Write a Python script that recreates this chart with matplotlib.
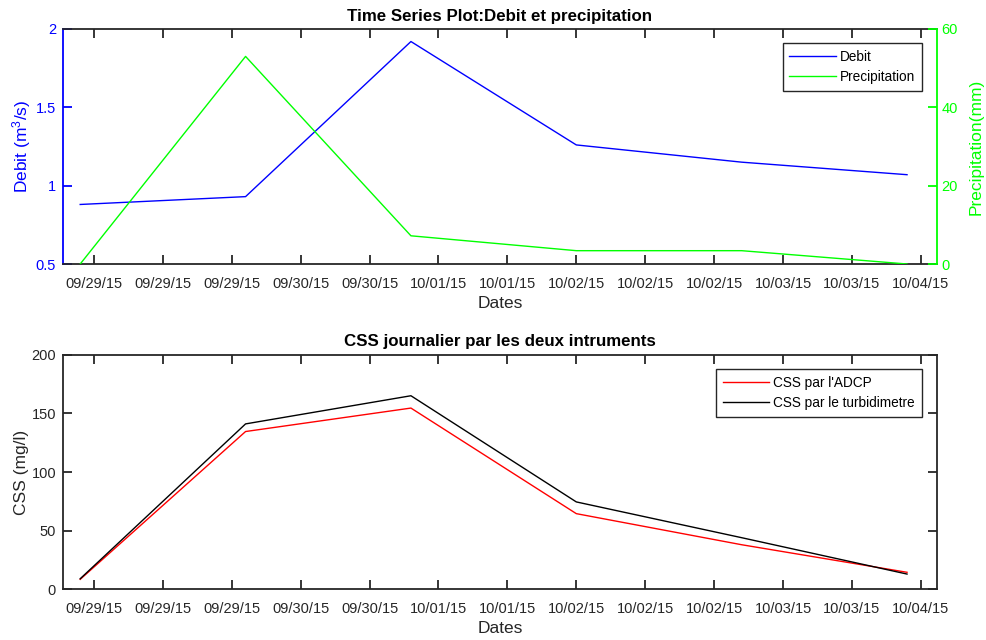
import matplotlib
matplotlib.use('Agg')
import matplotlib.pyplot as plt
import matplotlib.dates as mdates
import pandas as pd

plt.rcParams['font.family'] = ['Liberation Sans', 'DejaVu Sans']
plt.rcParams['mathtext.default'] = 'regular'

# donnees journalieres
dates = pd.to_datetime(['2015-09-29', '2015-09-30', '2015-10-01',
                        '2015-10-02', '2015-10-03', '2015-10-04'])
debit = [0.88, 0.93, 1.92, 1.26, 1.15, 1.07]
precip = [0, 53, 7.2, 3.4, 3.4, 0]
css_adcp = [8.5, 134.5, 154.5, 64.5, 38, 14.5]
css_turb = [9, 141, 165, 74.5, 44, 13]

# ticks toutes les 10 heures (comme matlab)
tick_dates = pd.date_range('2015-09-29 02:00', periods=13, freq='10h')
xmin = pd.Timestamp('2015-09-29') - pd.Timedelta(hours=2.5)
xmax = pd.Timestamp('2015-10-04') + pd.Timedelta(hours=4.3)

gris = '#262626'
bleu = '#0000ff'
vert = '#00ff00'

fig = plt.figure(figsize=(9.87, 6.4), dpi=100)
ax1 = fig.add_axes([0.0638, 0.5875, 0.8852, 0.3672])
ax3 = fig.add_axes([0.0638, 0.0792, 0.8852, 0.3666])

leg_kw = dict(loc='upper right', bbox_to_anchor=(0.983, 0.939),
              borderaxespad=0, fontsize=9.8, fancybox=False, framealpha=1,
              edgecolor=gris, handlelength=3.4, borderpad=0.5,
              labelspacing=0.45, handletextpad=0.3)


def style_x(ax):
    ax.set_xlim(xmin, xmax)
    ax.set_xticks(tick_dates)
    ax.xaxis.set_major_formatter(mdates.DateFormatter('%m/%d/%y'))
    ax.tick_params(axis='x', direction='in', length=6.5, width=1.3,
                   top=True, colors=gris, labelsize=10.5, pad=9)
    ax.set_xlabel('Dates', fontsize=12.5, color=gris, labelpad=4)
    for s in ax.spines.values():
        s.set_linewidth(1.3)
        s.set_color(gris)


# 1. debit et precipitation
l1, = ax1.plot(dates, debit, color=bleu, lw=1.0, label='Debit')
ax1.set_ylim(0.5, 2)
ax1.set_yticks([0.5, 1, 1.5, 2])
ax1.set_yticklabels(['0.5', '1', '1.5', '2'])
style_x(ax1)
ax1.tick_params(axis='y', direction='in', length=6.5, width=1.3,
                colors=bleu, labelsize=10.5, pad=5)
ax1.spines['left'].set_color(bleu)
ax1.spines['right'].set_visible(False)
ax1.set_ylabel('Debit (m$^3$/s)', color=bleu, fontsize=12.5, labelpad=2)

ax2 = ax1.twinx()
l2, = ax2.plot(dates, precip, color=vert, lw=1.0, label='Precipitation')
ax2.set_ylim(0, 60)
ax2.set_yticks([0, 20, 40, 60])
ax2.tick_params(axis='y', direction='in', length=6.5, width=1.3,
                colors=vert, labelsize=10.5)
ax2.spines['right'].set_color(vert)
ax2.spines['right'].set_linewidth(1.3)
ax2.spines['left'].set_visible(False)
ax2.spines['top'].set_visible(False)
ax2.spines['bottom'].set_visible(False)
ax2.set_ylabel('Precipitation(mm)', color=vert, fontsize=12.5, labelpad=8)
ax2.set_xlim(xmin, xmax)

leg = ax2.legend([l1, l2], ['Debit', 'Precipitation'], **leg_kw)
leg.get_frame().set_linewidth(1.0)
ax1.set_title('Time Series Plot:Debit et precipitation', fontsize=12.2,
              fontweight='bold', pad=6)

# 2. CSS
ax3.plot(dates, css_adcp, color='red', lw=1.0, label="CSS par l'ADCP")
ax3.plot(dates, css_turb, color='black', lw=1.0, label='CSS par le turbidimetre')
ax3.set_ylim(0, 200)
ax3.set_yticks([0, 50, 100, 150, 200])
style_x(ax3)
ax3.tick_params(axis='y', direction='in', length=6.5, width=1.3,
                right=True, colors=gris, labelsize=10.5, pad=5)
ax3.set_ylabel('CSS (mg/l)', color=gris, fontsize=12.5, labelpad=2)
leg2 = ax3.legend(**leg_kw)
leg2.get_frame().set_linewidth(1.0)
ax3.set_title('CSS journalier par les deux intruments', fontsize=12.2,
              fontweight='bold', pad=6)

plt.savefig('out.png', dpi=100)
